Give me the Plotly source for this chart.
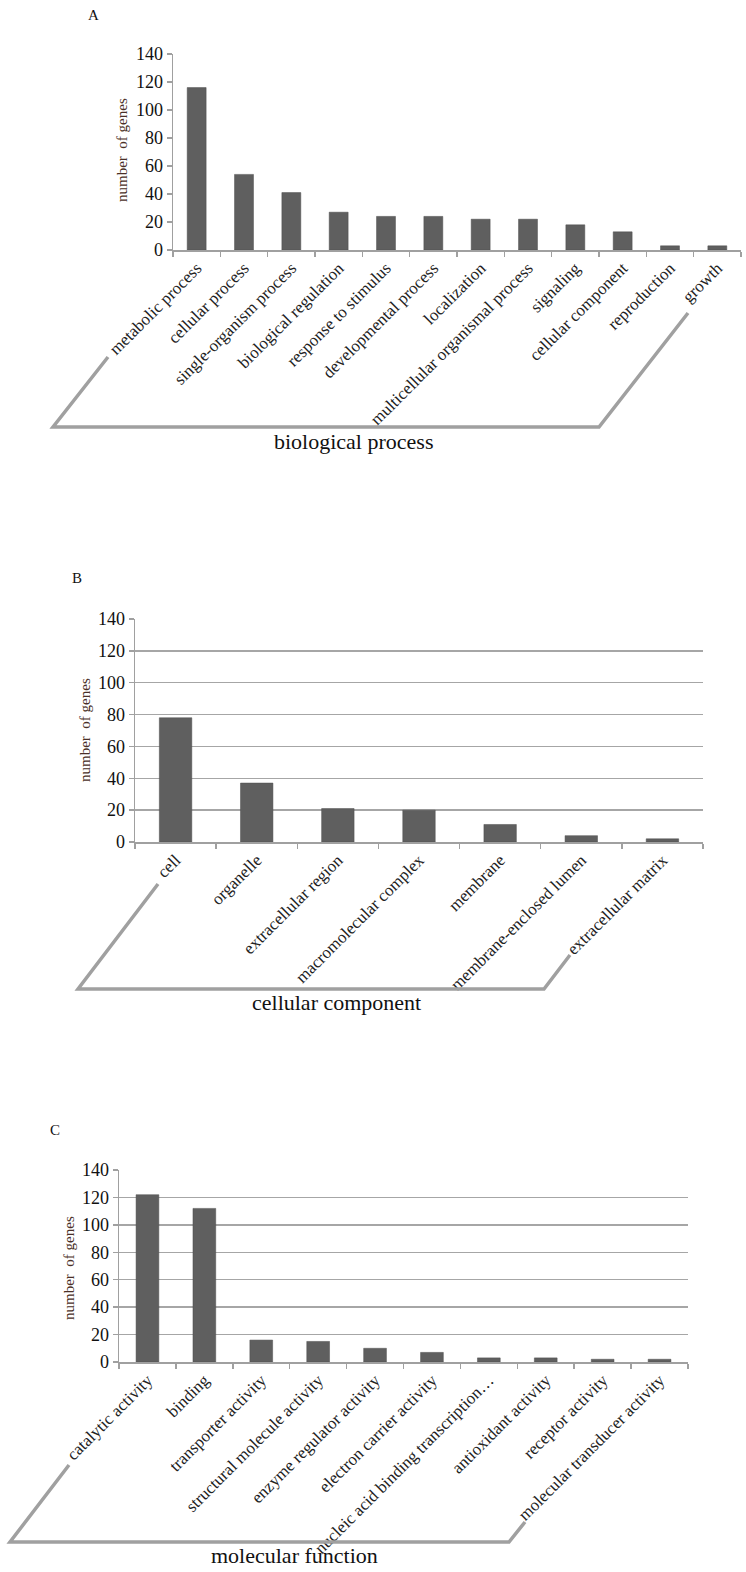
import plotly.graph_objects as go

# ---------------- data ----------------
bp_categories = ["metabolic process", "cellular process", "single-organism process",
                 "biological regulation", "response to stimulus", "developmental process",
                 "localization", "multicellular organismal process", "signaling",
                 "cellular component", "reproduction", "growth"]
bp_values = [116, 54, 41, 27, 24, 24, 22, 22, 18, 13, 3, 3]

cc_categories = ["cell", "organelle", "extracellular region", "macromolecular complex",
                 "membrane", "membrane-enclosed lumen", "extracellular matrix"]
cc_values = [78, 37, 21, 20, 11, 4, 2]

mf_categories = ["catalytic activity", "binding", "transporter activity",
                 "structural molecule activity", "enzyme regulator activity",
                 "electron carrier activity", "nucleic acid binding transcription…",
                 "antioxidant activity", "receptor activity", "molecular transducer activity"]
mf_values = [122, 112, 16, 15, 10, 7, 3, 3, 2, 2]

panel_letters = ["A", "B", "C"]
panel_titles = ["biological process", "cellular component", "molecular function"]
y_title = "number  of genes"
y_ticks = [0, 20, 40, 60, 80, 100, 120, 140]

# ---------------- layout helpers ----------------
W, H = 746, 1572
def px(x):
    return x / W
def py(y):
    return 1 - y / H

FONT = "Liberation Serif, Times New Roman, serif"
BAR = "#5f5f5f"
GRID = "#a6a6a6"
LINE = "#a0a0a0"

panels = [
    dict(cats=bp_categories, vals=bp_values, x0=173, x1=741, ytop=54, ybot=250, grid=False,
         letter=(93, 15), ytitle=(122, 150), title=(353, 441),
         para=[(108, 357), (53, 427), (599, 427), (688, 313)]),
    dict(cats=cc_categories, vals=cc_values, x0=135, x1=703, ytop=619, ybot=842, grid=True,
         letter=(77, 578), ytitle=(85, 730), title=(336, 1002),
         para=[(158, 884), (78, 989), (544, 989), (570, 955)]),
    dict(cats=mf_categories, vals=mf_values, x0=119, x1=688, ytop=1170, ybot=1362, grid=True,
         letter=(55, 1130), ytitle=(69, 1268), title=(294, 1555),
         para=[(69, 1465), (10, 1542), (509, 1542), (525, 1522)]),
]

fig = go.Figure()
annotations = []
shapes = []

for i, p in enumerate(panels):
    n = "" if i == 0 else str(i + 1)
    xa, ya = "x" + n, "y" + n
    fig.add_trace(go.Bar(x=p["cats"], y=p["vals"], xaxis=xa, yaxis=ya,
                         marker=dict(color=BAR, line=dict(color="#4f4f4f", width=0.5)),
                         width=0.4, showlegend=False, hoverinfo="skip"))
    fig.update_layout(**{
        "xaxis" + n: dict(domain=[px(p["x0"]), px(p["x1"])], anchor=ya, type="category",
                          automargin=False,
                          showline=True, linecolor=LINE, linewidth=1.5,
                          ticks="outside", tickson="boundaries", ticklen=5, tickcolor=LINE,
                          tickwidth=1.5, tickangle=-45, showgrid=False,
                          tickfont=dict(family=FONT, size=17, color="#222"),
                          range=[-0.5, len(p["cats"]) - 0.5], fixedrange=True),
        "yaxis" + n: dict(domain=[py(p["ybot"]), py(p["ytop"])], anchor=xa,
                          automargin=False,
                          range=[0, 140], tickvals=y_ticks,
                          showline=True, linecolor=LINE, linewidth=1.5,
                          ticks="outside", ticklen=5, tickcolor=LINE, tickwidth=1.5,
                          showgrid=p["grid"], gridcolor=GRID, gridwidth=1.5,
                          zeroline=False,
                          tickfont=dict(family=FONT, size=18, color="#111"),
                          fixedrange=True),
    })
    common = dict(xref="paper", yref="paper", showarrow=False,
                  xanchor="center", yanchor="middle")
    annotations.append(dict(text=panel_letters[i], x=px(p["letter"][0]), y=py(p["letter"][1]),
                            font=dict(family=FONT, size=15, color="#111"), **common))
    annotations.append(dict(text=y_title, x=px(p["ytitle"][0]), y=py(p["ytitle"][1]),
                            textangle=-90,
                            font=dict(family=FONT, size=15, color="#4a2f27"), **common))
    annotations.append(dict(text=panel_titles[i], x=px(p["title"][0]), y=py(p["title"][1]),
                            font=dict(family=FONT, size=22, color="#111"), **common))
    pts = p["para"]
    path = "M " + " L ".join(f"{px(a)},{py(b)}" for a, b in pts)
    shapes.append(dict(type="path", path=path, xref="paper", yref="paper",
                       line=dict(color=LINE, width=3.5)))

fig.update_layout(width=W, height=H, margin=dict(l=0, r=0, t=0, b=0, autoexpand=False),
                  paper_bgcolor="white", plot_bgcolor="white",
                  annotations=annotations, shapes=shapes, bargap=0.6)

fig.write_html("out.html", config={"displayModeBar": False, "staticPlot": True},
               post_script="document.body.style.margin='0';document.body.style.padding='0';")
